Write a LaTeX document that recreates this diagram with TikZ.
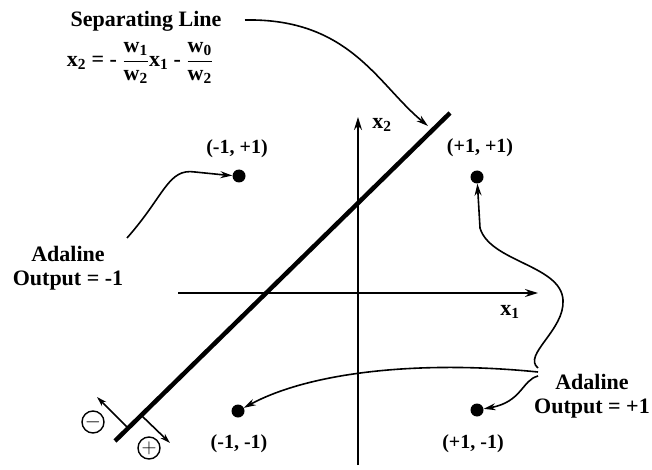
\documentclass[tikz,border=0pt]{standalone}
\usepackage{fontspec}
\setmainfont{Liberation Serif}
\usetikzlibrary{arrows.meta}
\begin{document}
\begin{tikzpicture}[x=1pt,y=-1pt,
  lbl/.style={font=\fontsize{22}{24}\selectfont\bfseries, align=center, inner sep=1pt},
  clbl/.style={font=\fontsize{20}{22}\selectfont\bfseries, inner sep=1pt},
  dot/.style={circle, fill=black, minimum size=13pt, inner sep=0pt},
  axis/.style={line width=1.7pt, -{Stealth[length=13pt,width=8pt]}},
  conn/.style={line width=1.6pt, -{Stealth[length=12pt,width=7pt]}},
  sign/.style={circle, draw, line width=1.4pt, minimum size=22pt, inner sep=0pt, font=\fontsize{20}{20}\selectfont\bfseries}
]
\useasboundingbox (0,0) rectangle (652,470);

% axes
\coordinate (yb) at (358,465);
\coordinate (yt) at (358,117);
\coordinate (xl) at (178,293);
\coordinate (xr) at (538,293);
\draw[axis] (yb) -- (yt);
\draw[axis] (xl) -- (xr);
\node[lbl] (x2) at (382,125) {x\textsubscript{2}};
\node[lbl] (x1) at (510,312) {x\textsubscript{1}};

% separating line
\coordinate (sa) at (115,441);
\coordinate (sb) at (450,113);
\draw[line width=4.5pt] (sa) -- (sb);

% points
\node[dot] (mp) at (239,176) {};
\node[dot] (pp) at (477,177) {};
\node[dot] (mm) at (238,411) {};
\node[dot] (pm) at (477,410) {};
\node[clbl] (lmp) at (237,149) {(-1, +1)};
\node[clbl] (lpp) at (480,148) {(+1, +1)};
\node[clbl] (lmm) at (239,444) {(-1, -1)};
\node[clbl] (lpm) at (473,444) {(+1, -1)};

% titles
\node[lbl] (sep) at (146,21) {Separating Line};
\node[lbl] (eq) at (140,63) {x\textsubscript{2} = - $\displaystyle\frac{\hbox{w\textsubscript{1}}}{\hbox{w\textsubscript{2}}}$x\textsubscript{1} - $\displaystyle\frac{\hbox{w\textsubscript{0}}}{\hbox{w\textsubscript{2}}}$};
\node[lbl] (aneg) at (68,268) {Adaline\\Output = -1};
\node[lbl] (apos) at (592,396) {Adaline\\Output = +1};

% connectors
\coordinate (s0) at (245,20);
\coordinate (s1) at (428,126);
\draw[conn] (s0) .. controls (350,18) and (378,85) .. (s1);

\coordinate (n0) at (127,238);
\draw[conn] (n0) .. controls (165,195) and (168,168) .. (195,172) .. controls (210,174) .. (mp);

\coordinate (q0) at (538,368);
\draw[conn] (q0) .. controls (522,355) and (565,330) .. (563,300)
  .. controls (561,265) and (490,262) .. (480,228) -- (pp);
\coordinate (q1) at (538,372);
\draw[conn] (q1) .. controls (420,360) and (310,372) .. (mm);
\coordinate (q2) at (538,376);
\draw[conn] (q2) .. controls (522,380) and (522,402) .. (pm);

% sign arrows
\coordinate (m1) at (128,428);
\coordinate (m2) at (97,397);
\coordinate (p1) at (142,416);
\coordinate (p2) at (170,443);
\draw[conn, -{Stealth[length=10pt,width=6pt]}] (m1) -- (m2);
\draw[conn, -{Stealth[length=10pt,width=6pt]}] (p1) -- (p2);
\node[sign] (minus) at (93,422) {\raisebox{1pt}{$-$}};
\node[sign] (plus) at (149,448) {\raisebox{1pt}{$+$}};
\end{tikzpicture}
\end{document}
